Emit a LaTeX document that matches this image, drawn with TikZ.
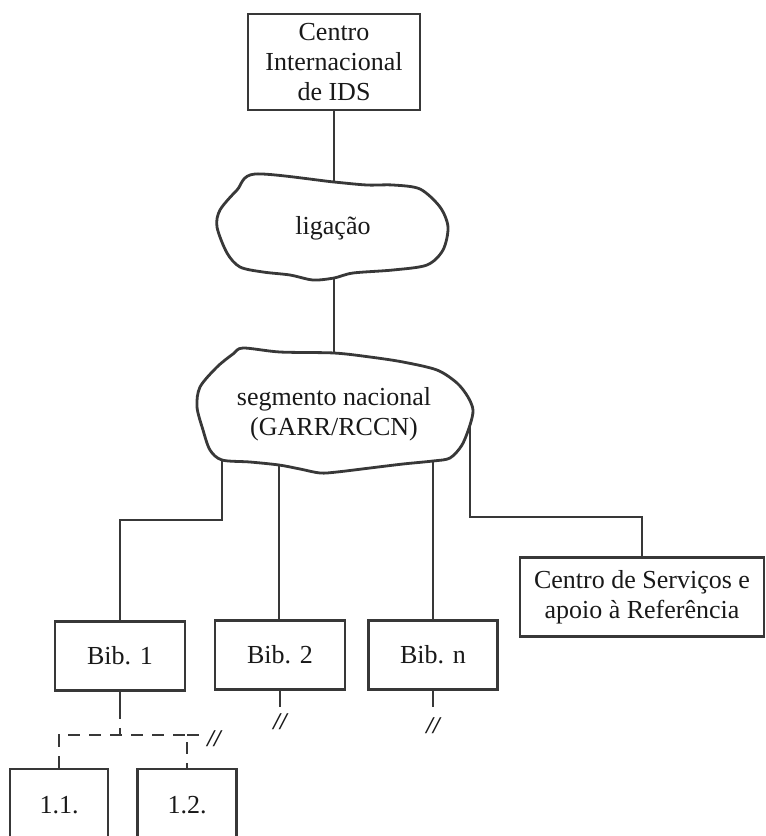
\documentclass[tikz,border=0pt]{standalone}
\usepackage{fontspec}
\setmainfont{Liberation Serif}

\begin{document}
\begin{tikzpicture}[x=1pt,y=-1pt,line width=2.8pt,color=black!78]
\useasboundingbox (0,0) rectangle (766,836);
\clip (0,0) rectangle (766,836);
\tikzstyle{every node}=[font=\fontsize{26}{30}\selectfont,align=center,text=black!90]
\tikzstyle{box}=[draw,inner sep=0pt]
\tikzstyle{brk}=[font=\fontsize{24}{24}\selectfont\bfseries\itshape,inner sep=0pt]
\tikzstyle{dashline}=[dash pattern=on 12pt off 9pt]

\node[box,minimum width=172,minimum height=96] (ids) at (334,62) {Centro\\Internacional\\de IDS};

% ligacao cloud
\coordinate (lig-n) at (334,182);
\coordinate (lig-s) at (334,278);
\draw[fill=white] plot[smooth cycle] coordinates {(255,174) (lig-n) (367,185) (393,185) (420,189)
  (440,207) (448,227) (443,250) (427,265) (393,270) (353,273) (lig-s) (313,280) (290,275)
  (263,272) (240,267) (227,253) (217,227) (220,210) (237,190)};
\node (lig) at (333,228) {ligação};

% segmento cloud
\coordinate (seg-n) at (334,353);
\coordinate (seg-e) at (470,425);
\coordinate (seg-s1) at (222,460);
\coordinate (seg-s2) at (279,465);
\coordinate (seg-s3) at (433,461);
\draw[fill=white] plot[smooth cycle] coordinates {(243,348) (280,352) (seg-n) (370,357) (403,362)
  (437,370) (457,383) (468,397) (473,410) (seg-e) (462,445) (450,458) (seg-s3) (403,464)
  (370,468) (337,472) (320,473) (300,469) (seg-s2) (250,462) (seg-s1) (210,450) (203,430)
  (197,407) (200,387) (217,367) (233,354)};
\node (seg) at (334,414) {segmento nacional\\(GARR/RCCN)};

\node[box,minimum width=130,minimum height=69] (bib1) at (120,656) {Bib. 1};
\node[box,minimum width=130,minimum height=69] (bib2) at (280,655) {Bib. 2};
\node[box,minimum width=129,minimum height=69] (bibn) at (433,655) {Bib. n};
\node[box,minimum width=244,minimum height=79] (serv) at (642,597) {Centro de Serviços e\\apoio à Referência};
\node[box,minimum width=98,minimum height=72] (b11) at (59,805) {1.1.};
\node[box,minimum width=99,minimum height=72] (b12) at (187,805) {1.2.};

\draw (ids) -- (lig-n);
\draw (lig-s) -- (seg-n);
\draw (seg-s1) -- ++(0,60) -| (bib1);
\draw (seg-s2) -- (seg-s2 |- bib2.north);
\draw (seg-s3) -- (seg-s3 |- bibn.north);
\draw (seg-e) -- ++(0,92) -| (serv);

% ramos seguintes
\draw (bib1.south) -- ++(0,15) coordinate (d1);
\draw[dashline] (d1) -- ++(0,28) coordinate (dj);
\draw[dashline] (b11) |- (dj) -| (b12);
\draw[dashline] (b12.north |- dj) -- ++(18,0) node[brk,right=1pt,yshift=-4pt] (more1) {//};
\draw (bib2.south) -- ++(0,16) node[brk,below=5pt] (more2) {//};
\draw (bibn.south) -- ++(0,16) node[brk,below=9pt] (moren) {//};
\end{tikzpicture}
\end{document}
